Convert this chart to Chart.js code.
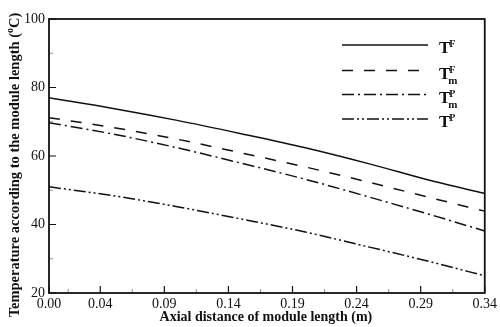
<!DOCTYPE html>
<html>
<head>
<meta charset="utf-8">
<script src="https://cdn.jsdelivr.net/npm/chart.js@4"></script>
<style>
html,body{margin:0;padding:0;background:#fff;}
#wrap{width:500px;height:327px;position:relative;}
</style>
</head>
<body>
<div id="wrap"><canvas id="c" width="500" height="327"></canvas></div>
<script>
// ---- data ----
const xValues = [0, 0.05, 0.10, 0.15, 0.20, 0.25, 0.30, 0.34];
const TF  = [77.0, 73.9, 70.4, 66.5, 62.4, 57.7, 52.6, 49.1];
const TmF = [71.2, 68.3, 64.9, 60.9, 56.8, 52.3, 47.6, 43.9];
const TmP = [69.7, 66.4, 62.4, 57.9, 53.2, 48.0, 42.6, 38.1];
const TP  = [51.0, 48.4, 45.2, 41.6, 37.8, 33.4, 28.9, 25.0];
const xTickValues = [0, 0.04, 0.09, 0.14, 0.19, 0.24, 0.29, 0.34];
const xMinorTicks = [0.015, 0.065, 0.115, 0.165, 0.215, 0.265, 0.315];
const yTickValues = [20, 40, 60, 80, 100];
const yMinorTicks = [30, 50, 70, 90];
const legendLabels = [
  {base:'T', sup:'F', sub:''},
  {base:'T', sup:'F', sub:'m'},
  {base:'T', sup:'P', sub:'m'},
  {base:'T', sup:'P', sub:''}
];
const dashes = [[], [11, 11], [12, 4, 2, 4], [12, 3, 2, 3, 2, 3]];
const xTitle = 'Axial distance of module length (m)';
const yTitleMain = 'Temperature according to the module length (';
const yTitleSup = 'o';
const yTitleEnd = 'C)';

const INK = '#111';
const SERIF = '"Liberation Serif", "DejaVu Serif", serif';

function mk(data, i){
  return {
    data: xValues.map((x, k) => ({x, y: data[k]})),
    borderColor: INK, borderWidth: 1.5, borderDash: dashes[i],
    pointRadius: 0, fill: false, cubicInterpolationMode: 'monotone'
  };
}

const decor = {
  id: 'decor',
  afterDraw(chart){
    const ctx = chart.ctx, a = chart.chartArea;
    const xs = chart.scales.x, ys = chart.scales.y;
    ctx.save();
    ctx.strokeStyle = INK;
    // inward ticks
    ctx.lineWidth = 1.2;
    ctx.beginPath();
    xTickValues.forEach(v => { const p = xs.getPixelForValue(v); ctx.moveTo(p, a.bottom); ctx.lineTo(p, a.bottom - 7); });
    yTickValues.forEach(v => { const p = ys.getPixelForValue(v); ctx.moveTo(a.left, p); ctx.lineTo(a.left + 7, p); });
    ctx.stroke();
    ctx.lineWidth = 0.8;
    ctx.strokeStyle = '#777';
    ctx.beginPath();
    xMinorTicks.forEach(v => { const p = xs.getPixelForValue(v); ctx.moveTo(p, a.bottom); ctx.lineTo(p, a.bottom - 4); });
    yMinorTicks.forEach(v => { const p = ys.getPixelForValue(v); ctx.moveTo(a.left, p); ctx.lineTo(a.left + 4, p); });
    ctx.stroke();
    // frame
    ctx.strokeStyle = INK;
    ctx.lineWidth = 1.8;
    ctx.strokeRect(a.left, a.top, a.right - a.left, a.bottom - a.top);

    // legend
    const rowsY = [45, 70.5, 94.5, 119];
    chart.data.datasets.forEach((ds, i) => {
      const y = rowsY[i];
      ctx.setLineDash(ds.borderDash || []);
      ctx.lineWidth = 1.5;
      ctx.strokeStyle = INK;
      ctx.beginPath(); ctx.moveTo(342, y); ctx.lineTo(428, y); ctx.stroke();
      ctx.setLineDash([]);
      const L = legendLabels[i];
      ctx.fillStyle = INK;
      ctx.textBaseline = 'alphabetic';
      ctx.textAlign = 'left';
      ctx.font = 'bold 17px ' + SERIF;
      const bx = 439, by = y + 8;
      ctx.fillText(L.base, bx, by);
      const w = ctx.measureText(L.base).width;
      ctx.font = 'bold 10px ' + SERIF;
      ctx.fillText(L.sup, bx + w - 1, by - 6);
      if (L.sub){
        ctx.font = 'bold 11px ' + SERIF;
        ctx.fillText(L.sub, bx + w - 2, by + 5);
      }
    });

    // x title
    ctx.fillStyle = INK;
    ctx.font = 'bold 14px ' + SERIF;
    ctx.textAlign = 'center';
    ctx.textBaseline = 'middle';
    ctx.fillText(xTitle, (a.left + a.right) / 2 - 1, 317);

    // y title rotated with superscript
    ctx.save();
    ctx.translate(15, 165);
    ctx.rotate(-Math.PI / 2);
    ctx.textBaseline = 'middle';
    ctx.textAlign = 'left';
    ctx.font = 'bold 14.5px ' + SERIF;
    const w1 = ctx.measureText(yTitleMain).width;
    ctx.font = 'bold 10px ' + SERIF;
    const w2 = ctx.measureText(yTitleSup).width;
    ctx.font = 'bold 14.5px ' + SERIF;
    const w3 = ctx.measureText(yTitleEnd).width;
    let sx = -(w1 + w2 + w3) / 2;
    ctx.fillText(yTitleMain, sx, 0); sx += w1;
    ctx.font = 'bold 10px ' + SERIF;
    ctx.fillText(yTitleSup, sx, -5); sx += w2;
    ctx.font = 'bold 14.5px ' + SERIF;
    ctx.fillText(yTitleEnd, sx, 0);
    ctx.restore();
    ctx.restore();
  }
};

new Chart(document.getElementById('c'), {
  type: 'line',
  data: { datasets: [mk(TF,0), mk(TmF,1), mk(TmP,2), mk(TP,3)] },
  options: {
    responsive: false, animation: false,
    layout: { padding: { top: 19, right: 13, left: 0, bottom: 0 } },
    plugins: { legend: { display: false }, tooltip: { enabled: false } },
    scales: {
      x: {
        type: 'linear', min: 0, max: 0.34,
        afterBuildTicks: s => { s.ticks = xTickValues.map(v => ({value: v})); },
        afterFit: s => { s.height = 34; },
        grid: { display: false, drawTicks: false },
        border: { display: false },
        ticks: {
          autoSkip: false, maxRotation: 0, minRotation: 0, padding: 3,
          color: INK, font: { family: SERIF, size: 14 },
          callback: v => Number(v).toFixed(2)
        }
      },
      y: {
        type: 'linear', min: 20, max: 100,
        afterBuildTicks: s => { s.ticks = yTickValues.map(v => ({value: v})); },
        afterFit: s => { s.width = 49; },
        grid: { display: false, drawTicks: false },
        border: { display: false },
        ticks: { padding: 4, color: INK, font: { family: SERIF, size: 14 } }
      }
    }
  },
  plugins: [decor]
});
</script>
</body>
</html>
